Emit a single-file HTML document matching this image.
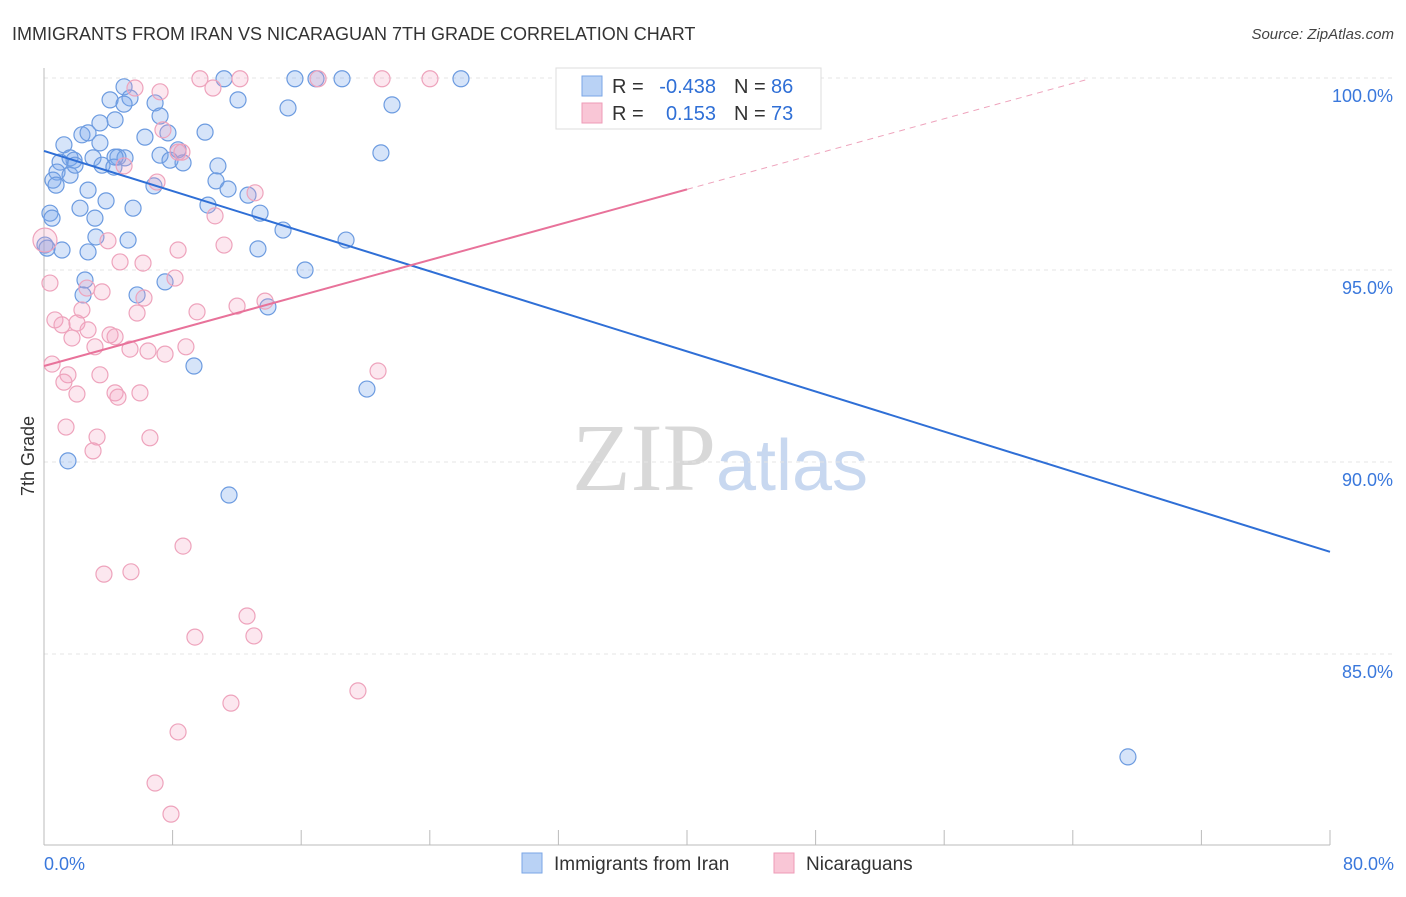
<!DOCTYPE html>
<html><head><meta charset="utf-8"><style>
body{margin:0;background:#fff;font-family:"Liberation Sans",sans-serif;}
</style></head><body>
<svg id="chart" width="1406" height="892" xmlns="http://www.w3.org/2000/svg" font-family="Liberation Sans, sans-serif">
<text x="12" y="40" font-size="18" fill="#333">IMMIGRANTS FROM IRAN VS NICARAGUAN 7TH GRADE CORRELATION CHART</text>
<text x="1394" y="39" font-size="15" font-style="italic" fill="#444" text-anchor="end">Source: ZipAtlas.com</text>
<text x="720" y="490" font-size="96" text-anchor="middle"><tspan fill="#d8d8d8" font-family="Liberation Serif, serif">ZIP</tspan><tspan fill="#c8d8f0" font-size="72">atlas</tspan></text>
<text transform="translate(34,456) rotate(-90)" font-size="18" fill="#333" text-anchor="middle">7th Grade</text>
<g id="grid"></g><g id="axes"></g><g id="pts"></g><g id="lines"></g>
<g>
<rect x="556" y="68" width="265" height="61" fill="#fff" stroke="#ddd"/>
<rect x="582" y="76" width="20" height="20" fill="#b9d2f5" stroke="#7aa6e6"/>
<text x="612" y="93" font-size="20" fill="#333">R =</text>
<text x="716" y="93" font-size="20" fill="#2f6fd6" text-anchor="end">-0.438</text>
<text x="734" y="93" font-size="20" fill="#333">N =</text>
<text x="771" y="93" font-size="20" fill="#2f6fd6">86</text>
<rect x="582" y="103" width="20" height="20" fill="#f9c6d6" stroke="#ee9bb7"/>
<text x="612" y="120" font-size="20" fill="#333">R =</text>
<text x="716" y="120" font-size="20" fill="#2f6fd6" text-anchor="end">0.153</text>
<text x="734" y="120" font-size="20" fill="#333">N =</text>
<text x="771" y="120" font-size="20" fill="#2f6fd6">73</text>
</g>
<g>
<rect x="522" y="853" width="20" height="20" fill="#b9d2f5" stroke="#7aa6e6"/>
<text x="554" y="870" font-size="19" fill="#333">Immigrants from Iran</text>
<rect x="774" y="853" width="20" height="20" fill="#f9c6d6" stroke="#ee9bb7"/>
<text x="806" y="870" font-size="19" fill="#333">Nicaraguans</text>
</g>
</svg>
<script>
const yTicks=[100,95,90,85];
const yTickLabels=["100.0%","95.0%","90.0%","85.0%"];
const xEnds=["0.0%","80.0%"];
const iranX=[4.98,11.20,15.61,18.54,25.94,16.92,4.11,5.35,6.91,4.98,21.65,15.18,12.07,4.42,3.48,7.22,2.36,2.74,1.24,3.48,6.28,7.71,10.02,20.96,1.62,1.87,1.00,3.05,4.60,5.04,7.22,8.34,7.84,8.65,3.61,4.35,10.82,0.81,1.62,0.56,0.75,2.74,6.84,10.70,11.45,3.86,2.24,5.54,10.20,12.69,13.44,0.37,0.50,3.17,3.23,5.23,14.87,18.79,0.06,0.19,1.12,13.31,2.74,16.24,2.55,7.53,2.43,5.79,13.93,9.33,20.09,1.49,11.51,67.43,1.93,4.42];
const iranY=[99.77,99.98,99.98,99.98,99.98,99.98,99.43,99.48,99.35,99.32,99.30,99.22,99.43,98.91,98.83,99.01,98.52,98.57,98.26,98.31,98.46,98.57,98.59,98.05,97.92,97.86,97.81,97.92,97.94,97.92,97.99,98.13,97.86,97.79,97.73,97.68,97.71,97.55,97.47,97.34,97.21,97.08,97.19,97.32,97.11,96.80,96.61,96.61,96.69,96.95,96.48,96.48,96.35,96.35,95.86,95.78,96.04,95.78,95.65,95.57,95.52,95.55,95.47,95.00,94.74,94.69,94.35,94.35,94.04,92.50,91.90,90.03,89.14,82.32,97.73,97.94];
const nicX=[33.03,24.01,21.03,17.05,12.19,9.70,10.51,5.66,7.22,7.40,8.34,8.58,4.98,7.03,13.13,10.64,8.34,11.20,3.98,0.06,4.73,6.16,0.37,8.15,3.61,2.67,6.22,13.75,12.01,9.52,5.79,2.36,0.68,1.12,2.05,2.74,4.11,4.42,1.74,3.17,5.35,6.47,7.53,8.83,0.50,1.49,3.48,1.24,20.78,2.05,4.42,5.97,4.60,1.37,3.30,6.59,3.05,8.65,3.73,5.41,12.63,13.06,9.39,19.53,11.63,8.34,6.91,7.90];
const nicY=[99.98,99.98,99.98,99.98,99.98,99.98,99.74,99.74,99.64,98.65,98.07,98.07,97.71,97.29,97.01,96.41,95.52,95.65,95.76,95.78,95.21,95.18,94.66,94.79,94.43,94.53,94.27,94.19,94.06,93.91,93.88,93.96,93.70,93.57,93.62,93.44,93.31,93.26,93.23,93.00,92.94,92.89,92.81,93.00,92.55,92.27,92.27,92.08,92.37,91.77,91.80,91.80,91.69,90.91,90.65,90.63,90.29,87.81,87.08,87.14,85.99,85.47,85.44,84.04,83.72,82.97,81.64,80.83];
const iranTrend=[98.1,87.66];
const nicTrend=[92.5,0.115];
const X0=44,X1=1330,Y100=78,PPU=38.4;
function sx(v){return X0+(X1-X0)*v/80;}
function sy(v){return Y100+(100-v)*PPU;}
const NS="http://www.w3.org/2000/svg";
function mk(parent,tag,attrs){const e=document.createElementNS(NS,tag);for(const k in attrs)e.setAttribute(k,attrs[k]);document.getElementById(parent).appendChild(e);return e;}
yTicks.forEach((t,i)=>{
 const l=mk('grid','line',{x1:X0,x2:1395,y1:sy(t),y2:sy(t),stroke:'#e4e4e4','stroke-dasharray':'4,4'});
 
 
 const tx=mk('grid','text',{x:1393,y:sy(t)+24,'font-size':18,fill:'#3a78dc','text-anchor':'end'});
 tx.textContent=yTickLabels[i];
 
 
});
const ax=mk('axes','line',{x1:X0,x2:X0,y1:68,y2:845,stroke:'#bbb'});


const bx=mk('axes','line',{x1:X0,x2:X1,y1:845,y2:845,stroke:'#bbb'});


for(let i=0;i<=10;i++){const t=mk('axes','line',{x1:sx(i*8),x2:sx(i*8),y1:830,y2:845,stroke:'#bbb'});
 
 }
[[0,'start',X0],[80,'end',1394]].forEach((d,i)=>{const t=mk('axes','text',{x:d[2],y:870,'font-size':18,fill:'#3a78dc','text-anchor':d[1]});t.textContent=xEnds[i];
 
 });
iranX.forEach((x,i)=>{const c=mk('pts','circle',{cx:sx(x),cy:sy(iranY[i]),r:8,fill:'rgba(120,165,235,0.3)',stroke:'#6c9be0','stroke-width':1.2});
 
 });
nicX.forEach((x,i)=>{const c=mk('pts','circle',{cx:sx(x),cy:sy(nicY[i]),r:i==19?12:8,fill:'rgba(245,160,190,0.25)',stroke:'#eea3bc','stroke-width':1.2});
 
 });
const bl=mk('lines','line',{x1:sx(0),y1:sy(iranTrend[0]),x2:sx(80),y2:sy(iranTrend[1]),stroke:'#2f6fd6','stroke-width':2});


const pl=mk('lines','line',{x1:sx(0),y1:sy(nicTrend[0]),x2:sx(40),y2:sy(nicTrend[0]+40*nicTrend[1]),stroke:'#e8729a','stroke-width':2});


const pd=mk('lines','line',{x1:sx(40),y1:sy(nicTrend[0]+40*nicTrend[1]),x2:sx(64.8),y2:sy(nicTrend[0]+64.8*nicTrend[1]),stroke:'#eea3bc','stroke-width':1,'stroke-dasharray':'6,5'});


</script>
</body></html>
